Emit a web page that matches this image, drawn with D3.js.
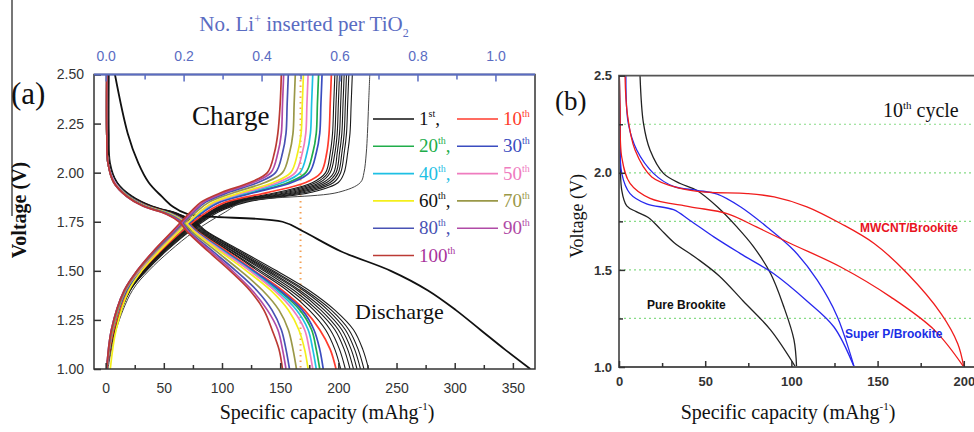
<!DOCTYPE html>
<html>
<head>
<meta charset="utf-8">
<script src="https://cdn.jsdelivr.net/npm/d3@7"></script>
<style>
    body { margin: 0; background: #fff; }
    svg { display: block; }
    .serif { font-family: "Liberation Serif", "Times New Roman", serif; }
    .sans { font-family: "Liberation Sans", Arial, sans-serif; }
</style>
</head>
<body>
<svg id="chart" width="974" height="432"></svg>
<script>
// ---------- panel (a): data ----------
// voltage levels at which capacities were read off each curve
const dischargeV = [2.5, 2.2, 2.05, 1.95, 1.88, 1.83, 1.79, 1.75, 1.7, 1.6, 1.5, 1.4, 1.3, 1.2, 1.1, 1.0];
const chargeV = [1.0, 1.2, 1.4, 1.5, 1.6, 1.7, 1.8, 1.85, 1.9, 1.95, 2.0, 2.1, 2.2, 2.35, 2.5];

const cycles = ["1st", "2nd", "3rd", "4th", "5th", "6th", "7th", "8th", "9th",
    "10th", "20th", "30th", "40th", "50th", "60th", "70th", "80th", "90th", "100th"];

// capacity (mAh/g) at each dischargeV level
const dischargeCap = [
    [8, 19, 28, 37, 48, 57, 70, 152, 170, 202, 245, 277, 301, 322, 343, 365],
    [3, 3, 4, 10, 23, 40, 63, 77, 87, 117, 147, 175, 197, 213, 221, 226],
    [2, 2, 3, 10, 22, 39, 62, 76, 86, 115, 144, 172, 194, 209, 217, 222],
    [2, 2, 3, 9, 22, 39, 62, 76, 85, 113, 142, 170, 191, 206, 214, 219],
    [2, 2, 3, 9, 22, 38, 61, 75, 84, 112, 140, 167, 188, 203, 211, 216],
    [2, 2, 3, 9, 21, 38, 60, 74, 83, 110, 138, 165, 185, 200, 208, 213],
    [2, 2, 3, 9, 21, 37, 60, 73, 82, 109, 136, 162, 182, 197, 205, 210],
    [2, 2, 3, 9, 21, 37, 59, 72, 81, 107, 133, 159, 179, 193, 201, 206],
    [1, 1, 2, 8, 20, 36, 58, 71, 80, 106, 131, 156, 175, 189, 197, 202],
    [1, 1, 2, 8, 20, 36, 57, 70, 79, 104, 128, 152, 171, 184, 193, 198],
    [1, 1, 2, 8, 20, 35, 56, 69, 78, 102, 126, 149, 167, 177, 181, 184],
    [1, 1, 2, 8, 20, 35, 56, 69, 78, 102, 127, 150, 169, 179, 184, 187],
    [1, 1, 2, 8, 19, 34, 56, 68, 77, 101, 125, 147, 164, 174, 178, 181],
    [1, 1, 2, 8, 19, 34, 55, 68, 77, 100, 124, 145, 161, 171, 175, 178],
    [1, 1, 2, 7, 19, 34, 55, 67, 76, 98, 121, 142, 157, 166, 171, 174],
    [1, 1, 2, 7, 19, 33, 54, 66, 74, 95, 116, 135, 149, 157, 161, 164],
    [1, 1, 2, 7, 18, 33, 53, 65, 72, 92, 112, 130, 143, 151, 155, 158],
    [1, 1, 2, 7, 18, 32, 52, 64, 71, 90, 109, 126, 139, 148, 152, 155],
    [1, 1, 2, 7, 18, 32, 52, 63, 70, 88, 107, 124, 136, 143, 149, 152]
];

// capacity (mAh/g) at each chargeV level
const chargeCap = [
    [2, 9, 23, 37, 55, 76, 103, 118, 200, 219, 222, 224, 225, 226, 227],
    [1, 8, 21, 35, 52, 72, 97, 121, 177, 200, 205, 208, 210, 211, 212],
    [1, 8, 21, 34, 51, 71, 95, 118, 172, 196, 202, 205, 207, 208, 209],
    [1, 8, 21, 34, 50, 70, 94, 116, 168, 193, 200, 203, 205, 206, 207],
    [1, 7, 20, 33, 50, 69, 93, 114, 164, 190, 198, 201, 203, 204, 205],
    [1, 7, 20, 33, 49, 68, 92, 112, 160, 187, 196, 199, 201, 202, 203],
    [1, 7, 20, 33, 49, 68, 91, 110, 156, 184, 193, 197, 199, 200, 201],
    [1, 7, 20, 32, 48, 67, 90, 108, 152, 181, 191, 195, 197, 198, 199],
    [1, 7, 19, 32, 48, 66, 89, 106, 148, 178, 189, 193, 195, 196, 197],
    [1, 7, 19, 31, 47, 65, 87, 103, 140, 172, 185, 190, 192, 193, 194],
    [1, 6, 18, 30, 45, 63, 83, 97, 127, 157, 172, 178, 181, 182, 183],
    [1, 6, 18, 30, 45, 63, 84, 98, 129, 160, 175, 181, 184, 185, 186],
    [1, 6, 17, 29, 44, 62, 82, 95, 123, 152, 167, 173, 176, 177, 178],
    [1, 6, 17, 29, 44, 62, 81, 94, 120, 148, 163, 169, 172, 173, 174],
    [4, 9, 20, 31, 46, 63, 81, 93, 117, 144, 159, 165, 168, 169, 170],
    [1, 6, 17, 28, 43, 60, 78, 89, 111, 137, 152, 158, 161, 162, 163],
    [1, 5, 16, 27, 42, 59, 76, 86, 106, 131, 146, 152, 155, 156, 157],
    [1, 5, 16, 27, 41, 58, 75, 84, 103, 127, 142, 148, 151, 152, 153],
    [1, 5, 16, 27, 41, 57, 73, 82, 100, 124, 139, 145, 148, 150, 151]
];

const legendRows = [["1st", "10th"], ["20th", "30th"], ["40th", "50th"], ["60th", "70th"], ["80th", "90th"], ["100th"]];
const capTicks = [0, 50, 100, 150, 200, 250, 300, 350];
const capMinorTicks = [25, 75, 125, 175, 225, 275, 325];
const voltTicksA = [1.0, 1.25, 1.5, 1.75, 2.0, 2.25, 2.5];
const liTicks = [0.0, 0.2, 0.4, 0.6, 0.8, 1.0];
const liMinorTicks = [0.1, 0.3, 0.5, 0.7, 0.9];
const liMarker = 0.5;          // dotted line at 0.5 Li per TiO2
const capPerLi = 335;          // mAh/g for one Li per TiO2

// ---------- panel (b): data, [capacity, voltage] ----------
const pureDischarge = [[0.2, 2.5], [0.6, 2.24], [1.6, 1.91], [4.5, 1.83], [10, 1.8], [17, 1.77], [24, 1.71], [32, 1.64], [45, 1.56], [58, 1.47], [72, 1.34], [88, 1.19], [102.4, 1.0]];
const pureCharge = [[12.2, 2.5], [14.2, 2.254], [18, 2.117], [25.8, 1.997], [35.5, 1.945], [45, 1.91], [57, 1.825], [68.5, 1.72], [78, 1.62], [88, 1.48], [95.6, 1.31], [101.5, 1.14], [103, 1.0]];
const superPDischarge = [[0.2, 2.5], [0.6, 2.25], [1.6, 1.997], [6.4, 1.893], [16, 1.84], [31.6, 1.81], [41, 1.756], [55, 1.67], [70.4, 1.584], [89.8, 1.48], [109, 1.34], [124.7, 1.206], [136.4, 1.0]];
const superPCharge = [[4, 2.5], [5.4, 2.254], [10.3, 2.117], [20, 1.997], [31.6, 1.93], [45.2, 1.91], [57, 1.89], [70.4, 1.825], [86, 1.72], [101.5, 1.6], [115, 1.447], [126.7, 1.258], [136.4, 1.0]];
const mwcntDischarge = [[0.2, 2.5], [0.6, 2.34], [1.6, 2.08], [6.4, 1.945], [18, 1.868], [41.3, 1.825], [62.7, 1.79], [80, 1.72], [99.5, 1.636], [128.6, 1.515], [157.7, 1.36], [183, 1.19], [200, 1.0]];
const mwcntCharge = [[3.5, 2.5], [4.8, 2.306], [9.3, 2.117], [19, 1.979], [35.5, 1.92], [51, 1.9], [74.3, 1.893], [90, 1.876], [109, 1.825], [128.6, 1.739], [148, 1.636], [167.4, 1.48], [186.8, 1.275], [196.5, 1.12], [200, 1.0]];
const bCapTicks = [0, 50, 100, 150, 200];
const bCapMinorTicks = [25, 75, 125, 175];
const bVoltTicks = [1.0, 1.5, 2.0, 2.5];
const bVoltMinorTicks = [1.25, 1.75, 2.25];
const bGrid = [1.25, 1.5, 1.75, 2.0, 2.25];

// ---------- styles ----------
const cycleColor = {
    "1st": "#111", "10th": "#ff3b2c", "20th": "#20ad4a", "30th": "#3a4cc0", "40th": "#1ec0e4",
    "50th": "#ef7cbf", "60th": "#f4ef1c", "70th": "#9a9848", "80th": "#4852b4", "90th": "#b04aa6", "100th": "#bb3a34"
};
const legendTextColor = {
    "1st": "#111", "10th": "#ff3b2c", "20th": "#20ad4a", "30th": "#3a4cc0", "40th": "#1ec0e4",
    "50th": "#ef7cbf", "60th": "#111", "70th": "#9a9848", "80th": "#4852b4", "90th": "#b04aa6", "100th": "#a8329c"
};
const topBlue = "#5a6cc2";
const axisGray = "#333";

const svg = d3.select("#chart");

// decoration line at far left
svg.append("line").attr("x1", 12).attr("x2", 12).attr("y1", 0).attr("y2", 216)
    .attr("stroke", "#777").attr("stroke-width", 2);

// ================= panel (a) =================
const ax = d3.scaleLinear().domain([-10, 369]).range([94, 535]);
const ay = d3.scaleLinear().domain([1.0, 2.5]).range([369, 74.5]);
const axTop = d3.scaleLinear().domain(ax.domain().map(d => d / capPerLi)).range(ax.range());

svg.append("clipPath").attr("id", "clipA").append("rect")
    .attr("x", 94).attr("y", 74.5).attr("width", 441).attr("height", 294.5);

const lineA = d3.line().x(d => ax(d[0])).y(d => ay(d[1])).curve(d3.curveCatmullRom.alpha(0.5));

const gA = svg.append("g").attr("clip-path", "url(#clipA)");

// dotted marker
gA.append("line")
    .attr("x1", axTop(liMarker)).attr("x2", axTop(liMarker))
    .attr("y1", ay(2.5)).attr("y2", ay(1.0))
    .attr("stroke", "#f3a055").attr("stroke-width", 2).attr("stroke-dasharray", "1.5,4");

function cycleStyle(name) {
    if (name === "1st") return { c: "#111", w: 1.8 };
    if (cycleColor[name]) return { c: cycleColor[name], w: 1.7 };
    return { c: "#1a1a1a", w: 1.1 };
}

// order: black 2..9 first, then 1st, then colored 10th..100th on top
const drawOrder = cycles.slice(1, 9).concat(["1st"]).concat(cycles.slice(9));
drawOrder.forEach(name => {
    const i = cycles.indexOf(name);
    const st = cycleStyle(name);
    const dis = dischargeV.map((v, j) => [dischargeCap[i][j], v]);
    const chg = chargeV.map((v, j) => [chargeCap[i][j], v]);
    gA.append("path").attr("d", lineA(dis)).attr("fill", "none")
        .attr("stroke", st.c).attr("stroke-width", st.w);
    gA.append("path").attr("d", lineA(chg)).attr("fill", "none")
        .attr("stroke", name === "1st" ? "#444" : st.c).attr("stroke-width", name === "1st" ? 1.0 : st.w);
});

// frame
svg.append("rect").attr("x", 94).attr("y", 74.5).attr("width", 441).attr("height", 294.5)
    .attr("fill", "none").attr("stroke", axisGray).attr("stroke-width", 1.5);

// axes
function styleAxis(g, color, font, size, weight) {
    g.select(".domain").remove();
    g.selectAll(".tick line").attr("stroke", color).attr("stroke-width", 1.5);
    g.selectAll(".tick text").attr("fill", color).attr("font-family", font)
        .attr("font-size", size).attr("font-weight", weight || "normal");
}
const sansF = "Liberation Sans, Arial, sans-serif";

svg.append("g").attr("transform", "translate(0,369)")
    .call(d3.axisBottom(ax).tickValues(capTicks).tickFormat(d3.format("d")).tickSize(-6).tickPadding(14))
    .call(g => styleAxis(g, axisGray, sansF, 14));
svg.append("g").attr("transform", "translate(0,369)")
    .call(d3.axisBottom(ax).tickValues(capMinorTicks).tickFormat("").tickSize(-4))
    .call(g => styleAxis(g, axisGray, sansF, 14));
svg.append("g").attr("transform", "translate(94,0)")
    .call(d3.axisLeft(ay).tickValues(voltTicksA).tickFormat(d3.format(".2f")).tickSize(-7).tickPadding(10))
    .call(g => styleAxis(g, axisGray, sansF, 14));
svg.append("g").attr("transform", "translate(0,74.5)")
    .call(d3.axisTop(axTop).tickValues(liTicks).tickFormat(d3.format(".1f")).tickSize(-7).tickPadding(14))
    .call(g => styleAxis(g, topBlue, sansF, 14));
svg.append("g").attr("transform", "translate(0,74.5)")
    .call(d3.axisTop(axTop).tickValues(liMinorTicks).tickFormat("").tickSize(-5))
    .call(g => styleAxis(g, topBlue, sansF, 14));
svg.append("line").attr("x1", 94).attr("x2", 535).attr("y1", 74.5).attr("y2", 74.5)
    .attr("stroke", topBlue).attr("stroke-width", 2);

// titles and labels (a)
const topTitle = svg.append("text").attr("class", "serif").attr("x", 304).attr("y", 31)
    .attr("text-anchor", "middle").attr("font-size", 21).attr("fill", topBlue);
topTitle.append("tspan").text("No. Li");
topTitle.append("tspan").attr("dy", -8).attr("font-size", 12).text("+");
topTitle.append("tspan").attr("dy", 8).text(" inserted per TiO");
topTitle.append("tspan").attr("dy", 6).attr("font-size", 12).text("2");

svg.append("text").attr("class", "serif").attr("x", 11).attr("y", 104)
    .attr("font-size", 31).attr("fill", "#111").text("(a)");

svg.append("text").attr("class", "serif").attr("font-weight", "bold")
    .attr("transform", "translate(26,210) rotate(-90)")
    .attr("text-anchor", "middle").attr("font-size", 20).attr("fill", "#111").text("Voltage (V)");

function capTitle(cx) {
    const t = svg.append("text").attr("class", "serif").attr("x", cx).attr("y", 419)
        .attr("text-anchor", "middle").attr("font-size", 20).attr("fill", "#111");
    t.append("tspan").text("Specific capacity (mAhg");
    t.append("tspan").attr("dy", -9).attr("font-size", 11).text("-1");
    t.append("tspan").attr("dy", 9).text(")");
}
capTitle(327);

svg.append("text").attr("class", "serif").attr("x", 192).attr("y", 125)
    .attr("font-size", 27).attr("fill", "#111").text("Charge");
svg.append("text").attr("class", "serif").attr("x", 355).attr("y", 319)
    .attr("font-size", 22).attr("fill", "#111").text("Discharge");

// legend
function legendLabel(name, x, y, comma) {
    const num = name.replace(/[a-z]+$/, "");
    const suf = name.slice(num.length);
    const t = svg.append("text").attr("class", "serif").attr("x", x).attr("y", y + 6)
        .attr("font-size", 19).attr("fill", legendTextColor[name]);
    t.append("tspan").text(num);
    t.append("tspan").attr("dy", -8).attr("font-size", 10).text(suf);
    if (comma) t.append("tspan").attr("dy", 8).text(",");
}
legendRows.forEach((row, r) => {
    const y = 119 + r * 27.3;
    row.forEach((name, c) => {
        const x0 = c === 0 ? 373 : 457;
        svg.append("line").attr("x1", x0).attr("x2", x0 + 41).attr("y1", y).attr("y2", y)
            .attr("stroke", cycleColor[name]).attr("stroke-width", 1.6);
        legendLabel(name, x0 + 46, y, c === 0 && row.length > 1);
    });
});

// ================= panel (b) =================
const bx = d3.scaleLinear().domain([0, 209.4]).range([619, 980]);
const by = d3.scaleLinear().domain([1.0, 2.5]).range([367, 75.7]);

svg.append("clipPath").attr("id", "clipB").append("rect")
    .attr("x", 619).attr("y", 75.7).attr("width", 361).attr("height", 291.3);

const gB = svg.append("g").attr("clip-path", "url(#clipB)");
gB.selectAll(".grid").data(bGrid).enter().append("line")
    .attr("x1", bx(0)).attr("x2", bx(209.4))
    .attr("y1", d => by(d)).attr("y2", d => by(d))
    .attr("stroke", "#86dc86").attr("stroke-width", 1.2).attr("stroke-dasharray", "2,3");

const lineB = d3.line().x(d => bx(d[0])).y(d => by(d[1])).curve(d3.curveCatmullRom.alpha(0.5));
[[pureDischarge, "#222"], [pureCharge, "#222"],
 [superPDischarge, "#2828ee"], [superPCharge, "#2828ee"],
 [mwcntDischarge, "#f01c1c"], [mwcntCharge, "#f01c1c"]].forEach(([pts, c]) => {
    gB.append("path").attr("d", lineB(pts)).attr("fill", "none")
        .attr("stroke", c).attr("stroke-width", 1.3);
});

// frame (right side is off the picture)
svg.append("path").attr("d", `M980,75.7H619V367H980`).attr("fill", "none")
    .attr("stroke", "#555").attr("stroke-width", 1.8);

svg.append("g").attr("transform", "translate(0,367)")
    .call(d3.axisBottom(bx).tickValues(bCapTicks).tickFormat(d3.format("d")).tickSize(-6).tickPadding(10))
    .call(g => styleAxis(g, "#333", sansF, 13, "bold"));
svg.append("g").attr("transform", "translate(0,367)")
    .call(d3.axisBottom(bx).tickValues(bCapMinorTicks).tickFormat("").tickSize(-4))
    .call(g => styleAxis(g, "#333", sansF, 13));
svg.append("g").attr("transform", "translate(619,0)")
    .call(d3.axisLeft(by).tickValues(bVoltTicks).tickFormat(d3.format(".1f")).tickSize(-6).tickPadding(7))
    .call(g => styleAxis(g, "#333", sansF, 13, "bold"));
svg.append("g").attr("transform", "translate(619,0)")
    .call(d3.axisLeft(by).tickValues(bVoltMinorTicks).tickFormat("").tickSize(-4))
    .call(g => styleAxis(g, "#333", sansF, 13));

svg.append("text").attr("class", "serif").attr("x", 555).attr("y", 110)
    .attr("font-size", 27).attr("fill", "#111").text("(b)");
svg.append("text").attr("class", "serif")
    .attr("transform", "translate(583,216) rotate(-90)")
    .attr("text-anchor", "middle").attr("font-size", 18).attr("fill", "#111").text("Voltage (V)");
capTitle(788);

const cyc = svg.append("text").attr("class", "serif").attr("x", 883).attr("y", 117)
    .attr("font-size", 20).attr("fill", "#111");
cyc.append("tspan").text("10");
cyc.append("tspan").attr("dy", -8).attr("font-size", 11).text("th");
cyc.append("tspan").attr("dy", 8).text(" cycle");

svg.append("text").attr("class", "sans").attr("x", 860).attr("y", 232)
    .attr("font-size", 12).attr("font-weight", "bold").attr("fill", "#e8141e").text("MWCNT/Brookite");
svg.append("text").attr("class", "sans").attr("x", 647).attr("y", 309)
    .attr("font-size", 12).attr("font-weight", "bold").attr("fill", "#111").text("Pure Brookite");
svg.append("text").attr("class", "sans").attr("x", 845).attr("y", 338)
    .attr("font-size", 12).attr("font-weight", "bold").attr("fill", "#1a2ee6").text("Super P/Brookite");
</script>
</body>
</html>
